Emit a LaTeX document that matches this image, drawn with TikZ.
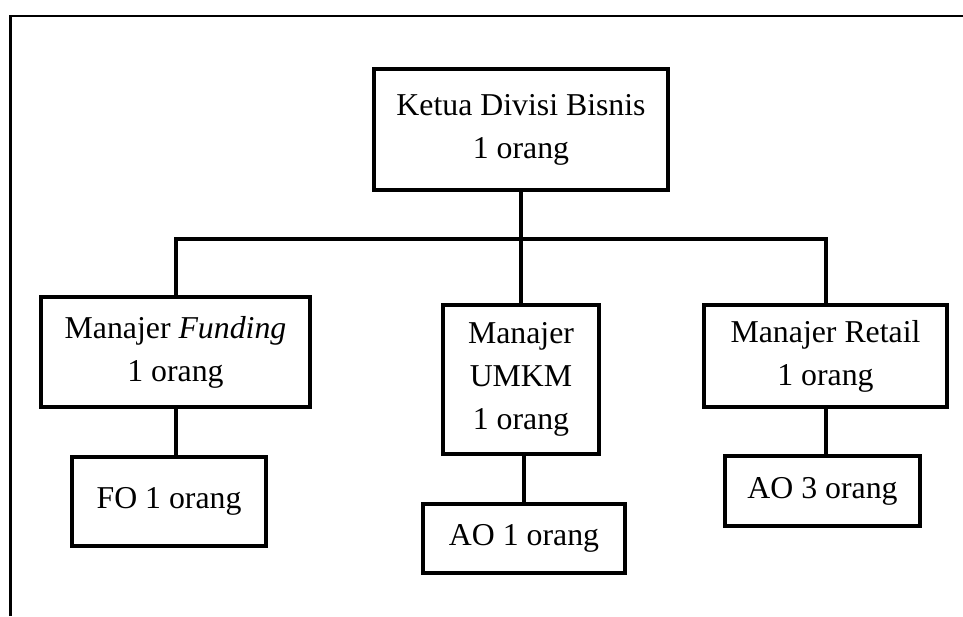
\documentclass[tikz,border=0pt]{standalone}
\usepackage{fontspec}
\setmainfont{Liberation Serif}
\begin{document}
\begin{tikzpicture}[x=1pt,y=-1pt,
  orgbox/.style={draw=black,line width=4pt,fill=white,inner sep=0pt,align=center,
    font=\fontsize{31.8}{43}\selectfont},
  link/.style={draw=black,line width=4pt},
  framestyle/.style={draw=black,line width=2.5pt}]
\useasboundingbox (0,0) rectangle (963,616);
\draw[framestyle] (10.5,616) -- (10.5,16) -- (963,16);

\node[orgbox,minimum width=294pt,minimum height=121pt] (ketua) at (521,129.5) {Ketua Divisi Bisnis\\1 orang};
\node[orgbox,minimum width=269pt,minimum height=110pt] (fund) at (175.5,352) {Manajer \textit{Funding}\\1 orang};
\node[orgbox,minimum width=156pt,minimum height=149pt] (umkm) at (521,379.5) {Manajer\\UMKM\\1 orang};
\node[orgbox,minimum width=243pt,minimum height=102pt] (retail) at (825.5,356) {Manajer Retail\\1 orang};
\node[orgbox,minimum width=194pt,minimum height=89pt] (fo) at (169,501.5) {FO 1 orang};
\node[orgbox,minimum width=202pt,minimum height=69pt] (ao1) at (524,538.5) {AO 1 orang};
\node[orgbox,minimum width=195pt,minimum height=70pt] (ao3) at (822.5,491) {AO 3 orang};

\coordinate (bus) at (521,239);
\draw[link] (ketua.south) -- (umkm.north);
\draw[link,line cap=rect] (fund.north) |- (bus) -| (retail.north);
\draw[link] (fund.south) -- (fund.south |- fo.north);
\draw[link] (umkm.south -| ao1.north) -- (ao1.north);
\draw[link] (retail.south) -- (retail.south |- ao3.north);
\end{tikzpicture}
\end{document}
